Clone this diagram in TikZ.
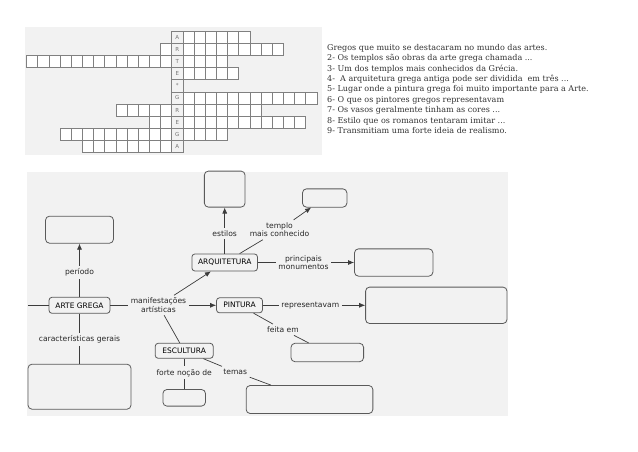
\documentclass[tikz,border=0pt]{standalone}
\usepackage{fontspec}
\setmainfont{DejaVu Serif}
\newfontfamily\mapafont{DejaVu Sans}
\usepackage{tikz}
\usetikzlibrary{arrows.meta,positioning}
\definecolor{fundo}{HTML}{F2F2F2}
\definecolor{borda}{HTML}{5A5A5A}
\definecolor{traco}{HTML}{3C3C3C}

\begin{document}
\begin{tikzpicture}[x=1pt,y=-1pt,on grid,
    conceito/.style={draw=borda,fill=fundo,rounded corners=3pt,line width=0.8pt,
      font=\mapafont\fontsize{7.5}{8.5}\selectfont,inner sep=0pt},
    vazio/.style={draw=borda,fill=fundo,rounded corners=4pt,line width=0.8pt,inner sep=0pt},
    rotulo/.style={font=\mapafont\fontsize{7.6}{8.6}\selectfont,align=center,inner sep=2.5pt,text=black!85},
    liga/.style={draw=traco,line width=0.7pt},
    seta/.style={liga,-{Latex[length=6pt,width=5pt]}},
    casa/.style={draw=black!50,fill=white,line width=0.5pt},
    letra/.style={font=\mapafont\fontsize{5.5}{6}\selectfont,text=black!55,inner sep=0pt}]
    \useasboundingbox (0,0) rectangle (638,452);

    % cruzadinha
    \fill[fundo] (25,26.7) rectangle (321.7,155);
    \foreach \r/\a/\b/\l in {1/0/6/A,2/-1/9/R,3/-13/4/T,4/0/5/E,5/0/0/{*},
                             6/0/12/G,7/-5/7/R,8/-2/11/E,9/-10/4/G,10/-8/0/A}{
        \foreach \c in {\a,...,\b}
            \draw[casa] ({171.7+11.17*\c},{18.83+12.17*\r}) rectangle ++(11.17,12.17);
        \draw[casa,fill=fundo] (171.7,{18.83+12.17*\r}) rectangle ++(11.17,12.17);
        \node[letra] (letra\r) at (177.3,{24.9+12.17*\r}) {\l};
    }

    % dicas
    \node[anchor=north west,align=left,inner sep=0pt,text=black!80,
          font=\fontsize{8.05}{10.4}\selectfont] (dicas) at (327,44)
        {Gregos que muito se destacaram no mundo das artes.\\
         2- Os templos são obras da arte grega chamada ...\\
         3- Um dos templos mais conhecidos da Grécia.\\
         4- \ A arquitetura grega antiga pode ser dividida \ em três ...\\
         5- Lugar onde a pintura grega foi muito importante para a Arte.\\
         6- O que os pintores gregos representavam\\
         7- Os vasos geralmente tinham as cores ...\\
         8- Estilo que os romanos tentaram imitar ...\\
         9- Transmitiam uma forte ideia de realismo.};

    % mapa conceitual
    \fill[fundo] (27,172) rectangle (508,416);
    \coordinate (corte) at (28,305.3);

    \node[conceito, minimum width=61pt, minimum height=16pt] (arte) at (79.5,305.3) {ARTE GREGA};
    \node[rotulo, above=33pt of arte] (lperiodo) {período};
    \node[vazio, above=42.6pt of lperiodo, minimum width=68pt, minimum height=27pt] (periodo) {};
    \node[rotulo, below=34pt of arte] (lcaract) {características gerais};
    \node[vazio, below=47.4pt of lcaract, minimum width=103pt, minimum height=45pt] (caract) {};
    \node[rotulo, right=79pt of arte] (lmanif) {manifestações\\artísticas};

    \node[conceito, above right=42.8pt and 66.2pt of lmanif, minimum width=65.6pt, minimum height=17pt] (arq) {ARQUITETURA};
    \node[rotulo, above=29pt of arq] (lestilos) {estilos};
    \node[vazio, above=44.4pt of lestilos, minimum width=40.7pt, minimum height=36pt] (estilos) {};
    \node[rotulo, above right=32.7pt and 54.8pt of arq] (ltemplo) {templo\\mais conhecido};
    \node[vazio, above right=31.8pt and 45.2pt of ltemplo, minimum width=44.4pt, minimum height=18.3pt] (templo) {};
    \node[rotulo, right=78.8pt of arq] (lprinc) {principais\\monumentos};
    \node[vazio, right=90.2pt of lprinc, minimum width=78.4pt, minimum height=27.3pt] (monu) {};

    \node[conceito, right=81pt of lmanif, minimum width=46pt, minimum height=15pt] (pint) {PINTURA};
    \node[rotulo, right=70.8pt of pint] (lrepr) {representavam};
    \node[vazio, right=126pt of lrepr, minimum width=141.4pt, minimum height=36.4pt] (repr) {};
    \node[rotulo, below right=24.4pt and 43.5pt of pint] (lfeita) {feita em};
    \node[vazio, below right=22.8pt and 44.3pt of lfeita, minimum width=72.6pt, minimum height=18.4pt] (feita) {};

    \node[conceito, below right=45.5pt and 25.7pt of lmanif, minimum width=58pt, minimum height=15pt] (escul) {ESCULTURA};
    \node[rotulo, below=22pt of escul] (lforte) {forte noção de};
    \node[vazio, below=25pt of lforte, minimum width=42.6pt, minimum height=16.6pt] (forte) {};
    \node[rotulo, below right=21pt and 51pt of escul] (ltemas) {temas};
    \node[vazio, below right=27.7pt and 74.3pt of ltemas, minimum width=126.7pt, minimum height=28pt] (temas) {};

    \path[liga] (corte) edge (arte)
                (arte) edge (lperiodo)
                (lperiodo) edge[seta] (periodo)
                (arte) edge (lcaract)
                (lcaract) edge (caract)
                (arte) edge (lmanif)
                (lmanif) edge[seta] (arq)
                (lmanif) edge[seta] (pint)
                (lmanif) edge (escul)
                (arq) edge (lestilos)
                (lestilos) edge[seta] (estilos)
                (arq) edge (ltemplo)
                (ltemplo) edge[seta] (templo)
                (arq) edge (lprinc)
                (lprinc) edge[seta] (monu)
                (pint) edge (lrepr)
                (lrepr) edge[seta] (repr)
                (pint) edge (lfeita)
                (lfeita) edge (feita)
                (escul) edge (lforte)
                (lforte) edge (forte)
                (escul) edge (ltemas)
                (ltemas) edge (temas);
\end{tikzpicture}
\end{document}
